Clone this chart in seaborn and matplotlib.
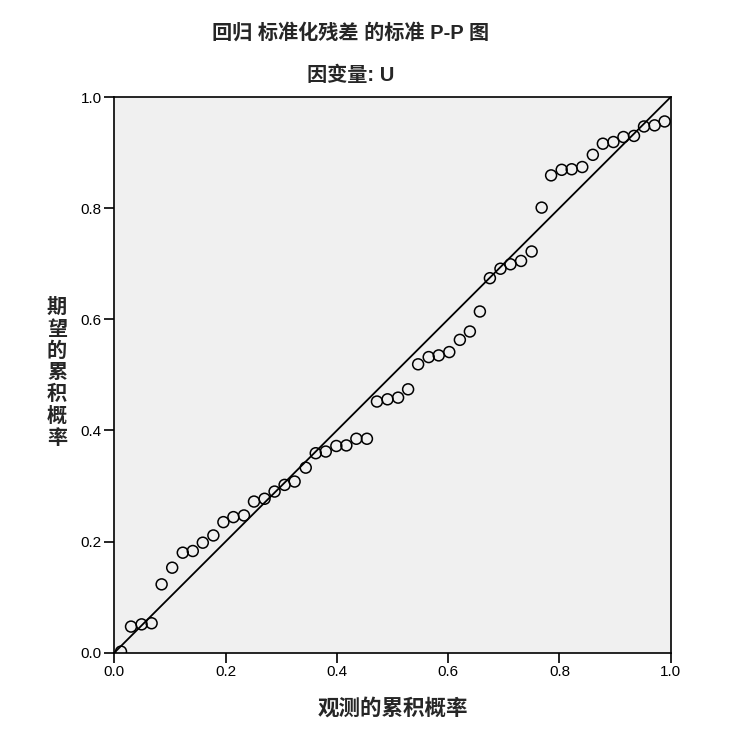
import numpy as np
import pandas as pd
import matplotlib
matplotlib.use("Agg")
import matplotlib.pyplot as plt
import seaborn as sns

# observed cumulative probability (x) and expected cumulative probability (y)
observed = [0.012, 0.030, 0.049, 0.067, 0.085, 0.104, 0.123, 0.141, 0.159, 0.178,
            0.196, 0.214, 0.233, 0.251, 0.270, 0.288, 0.306, 0.324, 0.344, 0.362,
            0.380, 0.399, 0.417, 0.435, 0.454, 0.472, 0.491, 0.510, 0.528, 0.546,
            0.565, 0.583, 0.602, 0.621, 0.639, 0.657, 0.675, 0.694, 0.712, 0.731,
            0.750, 0.768, 0.785, 0.804, 0.822, 0.841, 0.860, 0.878, 0.897, 0.915,
            0.934, 0.952, 0.971, 0.989]
expected = [0.002, 0.047, 0.051, 0.053, 0.123, 0.153, 0.180, 0.183, 0.198, 0.211,
            0.235, 0.244, 0.247, 0.272, 0.277, 0.290, 0.302, 0.308, 0.333, 0.359,
            0.362, 0.372, 0.373, 0.385, 0.385, 0.452, 0.456, 0.459, 0.474, 0.519,
            0.532, 0.535, 0.541, 0.563, 0.578, 0.614, 0.674, 0.691, 0.699, 0.705,
            0.722, 0.801, 0.859, 0.869, 0.870, 0.874, 0.896, 0.916, 0.919, 0.928,
            0.930, 0.947, 0.949, 0.956]
ref_line = [0.0, 1.0]
ticks = [0.0, 0.2, 0.4, 0.6, 0.8, 1.0]

title = "回归 标准化残差 的标准 P-P 图"
subtitle = "因变量: U"
xlabel = "观测的累积概率"
ylabel = "期望的累积概率"

sns.set_style("white")
plt.rcParams['font.family'] = ['Liberation Sans', 'Noto Sans CJK SC', 'DejaVu Sans']
cjk = ['Noto Sans CJK SC', 'DejaVu Sans']
mixed = ['Liberation Sans', 'Noto Sans CJK SC']

df = pd.DataFrame({'observed': observed, 'expected': expected})

fig = plt.figure(figsize=(7.4, 7.48), dpi=100)
ax = fig.add_axes([0.1545, 0.1274, 0.7519, 0.7429])
ax.set_facecolor('#F0F0F0')

sns.lineplot(x=ref_line, y=ref_line, ax=ax, color='black', linewidth=1.3)
sns.scatterplot(data=df, x='observed', y='expected', ax=ax, marker='o', s=62,
                facecolor='none', edgecolor='black', linewidth=1.1, zorder=3)

ax.set_xlim(0, 1)
ax.set_ylim(0, 1)
ax.set_xticks(ticks)
ax.set_yticks(ticks)
ax.set_xticklabels([f"{t:.1f}" for t in ticks])
ax.set_yticklabels([f"{t:.1f}" for t in ticks])
ax.tick_params(axis='both', direction='out', length=7, width=1.2, colors='black',
               labelsize=11, pad=2, bottom=True, left=True)
for sp in ax.spines.values():
    sp.set_color('black')
    sp.set_linewidth(1.2)
ax.set_xlabel('')
ax.set_ylabel('')

fig.text(351 / 740, 1 - 33 / 748, title, ha='center', va='center',
         fontsize=14.5, fontweight='bold', family=mixed)
fig.text(351 / 740, 1 - 75 / 748, subtitle, ha='center', va='center',
         fontsize=14.5, fontweight='bold', family=mixed)
fig.text(393 / 740, 1 - 708 / 748, xlabel, ha='center', va='center',
         fontsize=15.5, fontweight='bold', family=cjk)
fig.text(57 / 740, 1 - 372 / 748, "\n".join(ylabel), ha='center', va='center',
         fontsize=14.5, fontweight='bold', family=cjk, linespacing=1.05)

fig.savefig('out.png', dpi=100, facecolor='white')
